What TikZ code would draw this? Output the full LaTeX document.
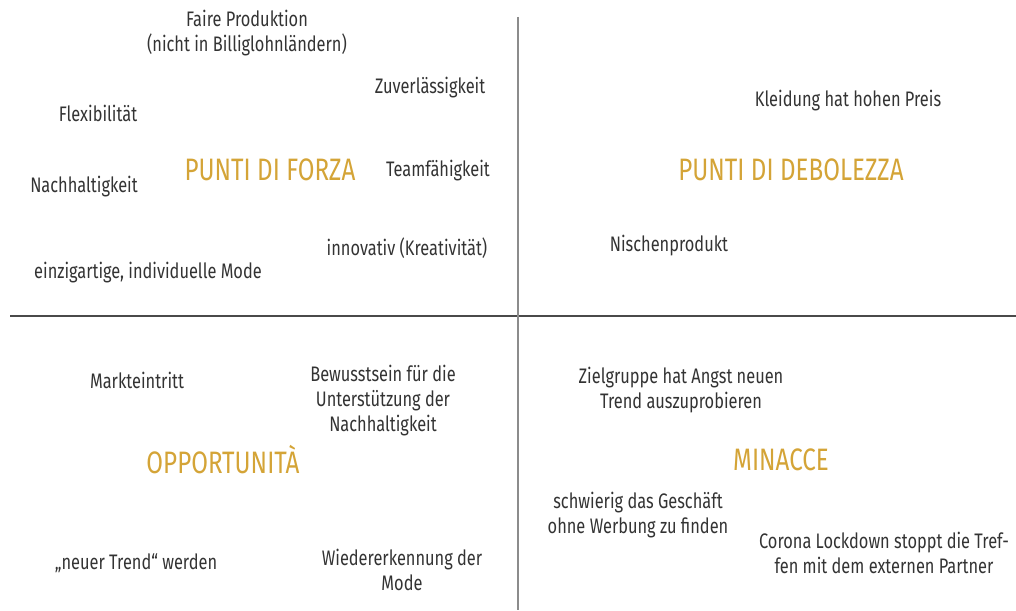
\documentclass[tikz,border=0pt]{standalone}
\usepackage{fontspec}
\setmainfont[FakeStretch=0.78]{Fira Sans}
\begin{document}
\begin{tikzpicture}[x=1pt,y=-1pt,
  txt/.style={font=\fontsize{21}{25}\selectfont, text=textgray, align=center, inner sep=0pt},
  ttl/.style={font=\fontsize{31}{34}\selectfont, text=gold, inner sep=0pt}]
\definecolor{textgray}{HTML}{333333}
\definecolor{gold}{HTML}{D4A437}
\definecolor{hline}{HTML}{4A4A4A}
\definecolor{vline}{HTML}{8C8C8C}
\useasboundingbox (0,0) rectangle (1016,610);
\coordinate (hl) at (10,316);
\coordinate (hr) at (1016,316);
\coordinate (vt) at (518,17);
\coordinate (vb) at (518,610);
\draw[hline, line width=2pt] (hl) -- (hr);
\draw[vline, line width=2pt] (vt) -- (vb);
% Punti di forza
\node[ttl] (forza) at (270,170) {PUNTI DI FORZA};
\node[txt] (faire) at (247,33) {Faire Produktion\\(nicht in Billiglohnländern)};
\node[txt] (zuv) at (430,88) {Zuverlässigkeit};
\node[txt] (flex) at (98,113) {Flexibilität};
\node[txt] (team) at (438,171) {Teamfähigkeit};
\node[txt] (nach) at (84,187) {Nachhaltigkeit};
\node[txt] (inno) at (407,248) {innovativ (Kreativität)};
\node[txt] (einz) at (148,273) {einzigartige, individuelle Mode};
% Punti di debolezza
\node[ttl] (debo) at (791,170) {PUNTI DI DEBOLEZZA};
\node[txt] (kleid) at (848,101) {Kleidung hat hohen Preis};
\node[txt] (nisch) at (669,246) {Nischenprodukt};
% Opportunita
\node[ttl] (oppo) at (223,460) {OPPORTUNITÀ};
\node[txt] (markt) at (137,380) {Markteintritt};
\node[txt] (bew) at (383,401) {Bewusstsein für die\\Unterstützung der\\Nachhaltigkeit};
\node[txt] (trend) at (136,563) {„neuer Trend“ werden};
\node[txt] (wied) at (402,570) {Wiedererkennung der\\Mode};
% Minacce
\node[ttl] (mina) at (781,460) {MINACCE};
\node[txt] (ziel) at (681,390) {Zielgruppe hat Angst neuen\\Trend auszuprobieren};
\node[txt] (schw) at (638,515) {schwierig das Geschäft\\ohne Werbung zu finden};
\node[txt] (coro) at (884,553) {Corona Lockdown stoppt die Tref-\\fen mit dem externen Partner};
\end{tikzpicture}
\end{document}
